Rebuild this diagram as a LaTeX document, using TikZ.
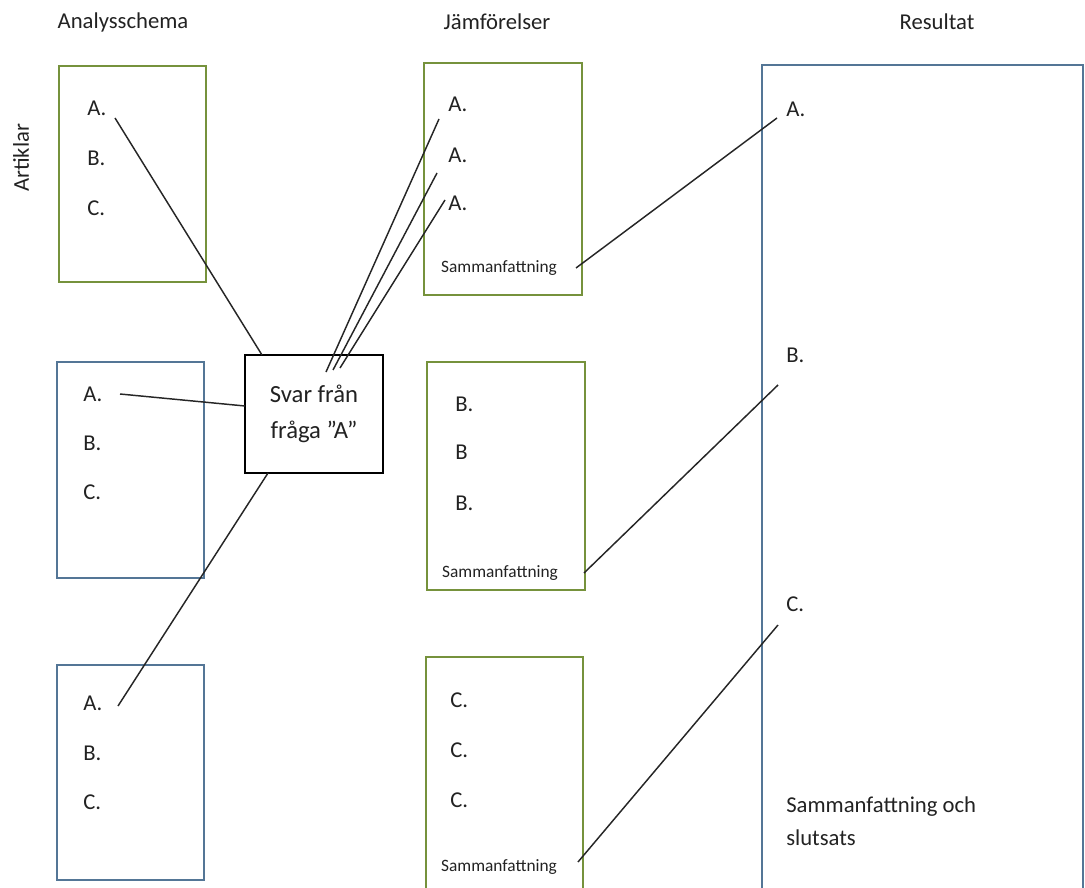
\documentclass[tikz,border=0pt]{standalone}
\usepackage{fontspec}
\setmainfont{Carlito}
\definecolor{boxgreen}{RGB}{118,146,60}
\definecolor{boxblue}{RGB}{84,118,150}
\definecolor{txt}{RGB}{34,34,34}
\begin{document}
\begin{tikzpicture}[x=0.75pt,y=-0.75pt,
  lbl/.style={font=\fontsize{17}{21}\selectfont, text=txt, inner sep=0pt},
  item/.style={lbl, anchor=west},
  small/.style={font=\fontsize{13}{15}\selectfont, text=txt, inner sep=0pt},
  gbox/.style={draw=boxgreen, line width=1.1pt},
  bbox/.style={draw=boxblue, line width=1.1pt},
  conn/.style={draw=black!85, line width=1.1pt}]
\useasboundingbox (0,0) rectangle (1085,888);
\clip (0,0) rectangle (1085,888);
% titles
\node[lbl] (t1) at (123,22) {Analysschema};
\node[lbl] (t2) at (497,22) {Jämförelser};
\node[lbl] (t3) at (937,22) {Resultat};
\node[lbl, rotate=90] (art) at (21,158) {Artiklar};
% Analysschema boxes
\node[gbox, minimum width=147pt*0.75, minimum height=216pt*0.75, inner sep=0pt] (b1) at (132.5,174) {};
\node[bbox, minimum width=147pt*0.75, minimum height=216pt*0.75, inner sep=0pt] (b2) at (130.5,470) {};
\node[bbox, minimum width=147pt*0.75, minimum height=215pt*0.75, inner sep=0pt] (b3) at (130.5,772.5) {};
\node[item] (b1a) at (87,108) {A.};
\node[item] (b1b) at (87,158) {B.};
\node[item] (b1c) at (87,208) {C.};
\node[item] (b2a) at (83,394) {A.};
\node[item] (b2b) at (83,443) {B.};
\node[item] (b2c) at (83,492) {C.};
\node[item] (b3a) at (83,703) {A.};
\node[item] (b3b) at (83,753) {B.};
\node[item] (b3c) at (83,802) {C.};
% centre box
\node[draw=black, line width=1.2pt, fill=white, minimum width=138pt*0.75, minimum height=118pt*0.75, inner sep=0pt,
      align=center, font=\fontsize{18.5}{27}\selectfont, text=txt] (svar) at (314,414) {Svar från\\fråga ”A”};
% Jämförelser boxes
\node[gbox, minimum width=158pt*0.75, minimum height=232pt*0.75, inner sep=0pt] (j1) at (503,179) {};
\node[gbox, minimum width=158pt*0.75, minimum height=228pt*0.75, inner sep=0pt] (j2) at (506,476) {};
\node[gbox, minimum width=157pt*0.75, minimum height=240pt*0.75, inner sep=0pt] (j3) at (504.5,777) {};
\node[item] (j1a) at (448,104) {A.};
\node[item] (j1b) at (448,155) {A.};
\node[item] (j1c) at (448,203) {A.};
\node[small] (j1s) at (499,268) {Sammanfattning};
\node[item] (j2a) at (455,404) {B.};
\node[item] (j2b) at (455,452) {B};
\node[item] (j2c) at (455,503) {B.};
\node[small] (j2s) at (500,573) {Sammanfattning};
\node[item] (j3a) at (450,700) {C.};
\node[item] (j3b) at (450,750) {C.};
\node[item] (j3c) at (450,800) {C.};
\node[small] (j3s) at (499,867) {Sammanfattning};
% Resultat box
\draw[bbox] (762,65) rectangle (1083,900);
\node[item] (ra) at (786,109) {A.};
\node[item] (rb) at (786,355) {B.};
\node[item] (rc) at (786,604) {C.};
\node[lbl, anchor=north west, align=left, font=\fontsize{17}{24.75}\selectfont] (rs) at (786,796) {Sammanfattning och\\slutsats};
% connector end points
\coordinate (p1) at (115,118);  \coordinate (q1) at (262,355);
\coordinate (p2) at (120,394);  \coordinate (q2) at (245,406);
\coordinate (p3) at (118,706);  \coordinate (q3) at (268,473);
\coordinate (s1) at (326,372);  \coordinate (e1) at (439,119);
\coordinate (s2) at (333,370);  \coordinate (e2) at (437,173);
\coordinate (s3) at (340,368);  \coordinate (e3) at (445,200);
\coordinate (r1s) at (576,268); \coordinate (r1e) at (777,118);
\coordinate (r2s) at (584,573); \coordinate (r2e) at (778,385);
\coordinate (r3s) at (578,862); \coordinate (r3e) at (778,625);
% connectors
\draw[conn] (p1) -- (q1);
\draw[conn] (p2) -- (q2);
\draw[conn] (p3) -- (q3);
\draw[conn] (s1) -- (e1);
\draw[conn] (s2) -- (e2);
\draw[conn] (s3) -- (e3);
\draw[conn] (r1s) -- (r1e);
\draw[conn] (r2s) -- (r2e);
\draw[conn] (r3s) -- (r3e);
\end{tikzpicture}
\end{document}
